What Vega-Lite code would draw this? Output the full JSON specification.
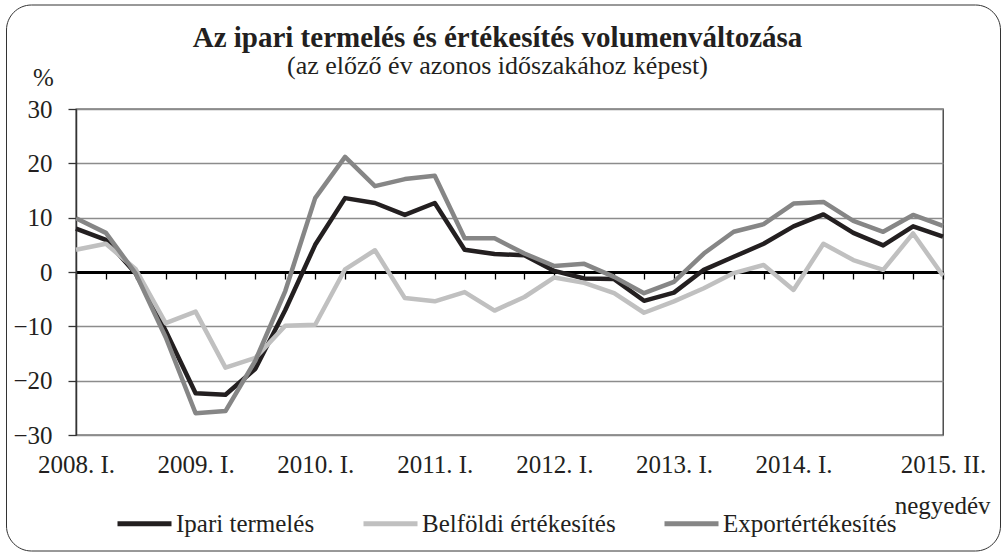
{
  "$schema": "https://vega.github.io/schema/vega-lite/v6.json",
  "width": 867,
  "height": 326,
  "autosize": "none",
  "padding": {"left": 76, "top": 109, "right": 61, "bottom": 120},
  "background": "white",
  "config": {
    "font": "Liberation Serif",
    "view": {"stroke": "#333333", "strokeWidth": 1.3},
    "axis": {"labelFont": "Liberation Serif", "titleFont": "Liberation Serif", "labelColor": "#231f20", "titleColor": "#231f20", "titleFontWeight": "normal"},
    "legend": {"labelFont": "Liberation Serif", "labelColor": "#231f20"}
  },
  "title": {
    "text": "Az ipari termelés és értékesítés volumenváltozása",
    "subtitle": "(az előző év azonos időszakához képest)",
    "anchor": "middle",
    "frame": "group",
    "font": "Liberation Serif",
    "fontSize": 29,
    "fontWeight": "bold",
    "color": "#231f20",
    "subtitleFont": "Liberation Serif",
    "subtitleFontSize": 26,
    "subtitleColor": "#231f20",
    "subtitlePadding": 0,
    "offset": 30,
    "dx": -12,
    "dy": 104.5
  },
  "datasets": {
    "main": [
      {"q": "2008. I.", "series": "Ipari termelés", "v": 8.0},
      {"q": "2008. II.", "series": "Ipari termelés", "v": 5.9},
      {"q": "2008. III.", "series": "Ipari termelés", "v": -0.3},
      {"q": "2008. IV.", "series": "Ipari termelés", "v": -10.8},
      {"q": "2009. I.", "series": "Ipari termelés", "v": -22.3},
      {"q": "2009. II.", "series": "Ipari termelés", "v": -22.6},
      {"q": "2009. III.", "series": "Ipari termelés", "v": -17.8},
      {"q": "2009. IV.", "series": "Ipari termelés", "v": -7.0},
      {"q": "2010. I.", "series": "Ipari termelés", "v": 5.0},
      {"q": "2010. II.", "series": "Ipari termelés", "v": 13.6},
      {"q": "2010. III.", "series": "Ipari termelés", "v": 12.7},
      {"q": "2010. IV.", "series": "Ipari termelés", "v": 10.5},
      {"q": "2011. I.", "series": "Ipari termelés", "v": 12.7},
      {"q": "2011. II.", "series": "Ipari termelés", "v": 4.1},
      {"q": "2011. III.", "series": "Ipari termelés", "v": 3.3},
      {"q": "2011. IV.", "series": "Ipari termelés", "v": 3.1},
      {"q": "2012. I.", "series": "Ipari termelés", "v": 0.2},
      {"q": "2012. II.", "series": "Ipari termelés", "v": -1.2},
      {"q": "2012. III.", "series": "Ipari termelés", "v": -1.3},
      {"q": "2012. IV.", "series": "Ipari termelés", "v": -5.3},
      {"q": "2013. I.", "series": "Ipari termelés", "v": -3.8},
      {"q": "2013. II.", "series": "Ipari termelés", "v": 0.4},
      {"q": "2013. III.", "series": "Ipari termelés", "v": 2.8},
      {"q": "2013. IV.", "series": "Ipari termelés", "v": 5.2},
      {"q": "2014. I.", "series": "Ipari termelés", "v": 8.4},
      {"q": "2014. II.", "series": "Ipari termelés", "v": 10.6},
      {"q": "2014. III.", "series": "Ipari termelés", "v": 7.2},
      {"q": "2014. IV.", "series": "Ipari termelés", "v": 4.9},
      {"q": "2015. I.", "series": "Ipari termelés", "v": 8.4},
      {"q": "2015. II.", "series": "Ipari termelés", "v": 6.5},
      {"q": "2008. I.", "series": "Belföldi értékesítés", "v": 4.1},
      {"q": "2008. II.", "series": "Belföldi értékesítés", "v": 5.2},
      {"q": "2008. III.", "series": "Belföldi értékesítés", "v": 0.5},
      {"q": "2008. IV.", "series": "Belföldi értékesítés", "v": -9.4},
      {"q": "2009. I.", "series": "Belföldi értékesítés", "v": -7.3},
      {"q": "2009. II.", "series": "Belföldi értékesítés", "v": -17.6},
      {"q": "2009. III.", "series": "Belföldi értékesítés", "v": -15.8},
      {"q": "2009. IV.", "series": "Belföldi értékesítés", "v": -9.9},
      {"q": "2010. I.", "series": "Belföldi értékesítés", "v": -9.7},
      {"q": "2010. II.", "series": "Belföldi értékesítés", "v": 0.5},
      {"q": "2010. III.", "series": "Belföldi értékesítés", "v": 4.0},
      {"q": "2010. IV.", "series": "Belföldi értékesítés", "v": -4.8},
      {"q": "2011. I.", "series": "Belföldi értékesítés", "v": -5.4},
      {"q": "2011. II.", "series": "Belföldi értékesítés", "v": -3.7},
      {"q": "2011. III.", "series": "Belföldi értékesítés", "v": -7.1},
      {"q": "2011. IV.", "series": "Belföldi értékesítés", "v": -4.6},
      {"q": "2012. I.", "series": "Belföldi értékesítés", "v": -1.0},
      {"q": "2012. II.", "series": "Belföldi értékesítés", "v": -2.0},
      {"q": "2012. III.", "series": "Belföldi értékesítés", "v": -3.9},
      {"q": "2012. IV.", "series": "Belföldi értékesítés", "v": -7.5},
      {"q": "2013. I.", "series": "Belföldi értékesítés", "v": -5.4},
      {"q": "2013. II.", "series": "Belföldi értékesítés", "v": -3.0},
      {"q": "2013. III.", "series": "Belföldi értékesítés", "v": -0.2},
      {"q": "2013. IV.", "series": "Belföldi értékesítés", "v": 1.3},
      {"q": "2014. I.", "series": "Belföldi értékesítés", "v": -3.3},
      {"q": "2014. II.", "series": "Belföldi értékesítés", "v": 5.2},
      {"q": "2014. III.", "series": "Belföldi értékesítés", "v": 2.2},
      {"q": "2014. IV.", "series": "Belföldi értékesítés", "v": 0.4},
      {"q": "2015. I.", "series": "Belföldi értékesítés", "v": 7.1},
      {"q": "2015. II.", "series": "Belföldi értékesítés", "v": -0.7},
      {"q": "2008. I.", "series": "Exportértékesítés", "v": 9.9},
      {"q": "2008. II.", "series": "Exportértékesítés", "v": 7.2},
      {"q": "2008. III.", "series": "Exportértékesítés", "v": -0.3},
      {"q": "2008. IV.", "series": "Exportértékesítés", "v": -12.0},
      {"q": "2009. I.", "series": "Exportértékesítés", "v": -26.0},
      {"q": "2009. II.", "series": "Exportértékesítés", "v": -25.6},
      {"q": "2009. III.", "series": "Exportértékesítés", "v": -16.3},
      {"q": "2009. IV.", "series": "Exportértékesítés", "v": -3.5},
      {"q": "2010. I.", "series": "Exportértékesítés", "v": 13.6},
      {"q": "2010. II.", "series": "Exportértékesítés", "v": 21.2},
      {"q": "2010. III.", "series": "Exportértékesítés", "v": 15.8},
      {"q": "2010. IV.", "series": "Exportértékesítés", "v": 17.1},
      {"q": "2011. I.", "series": "Exportértékesítés", "v": 17.7},
      {"q": "2011. II.", "series": "Exportértékesítés", "v": 6.2},
      {"q": "2011. III.", "series": "Exportértékesítés", "v": 6.2},
      {"q": "2011. IV.", "series": "Exportértékesítés", "v": 3.4},
      {"q": "2012. I.", "series": "Exportértékesítés", "v": 1.1},
      {"q": "2012. II.", "series": "Exportértékesítés", "v": 1.5},
      {"q": "2012. III.", "series": "Exportértékesítés", "v": -0.9},
      {"q": "2012. IV.", "series": "Exportértékesítés", "v": -3.9},
      {"q": "2013. I.", "series": "Exportértékesítés", "v": -1.8},
      {"q": "2013. II.", "series": "Exportértékesítés", "v": 3.4},
      {"q": "2013. III.", "series": "Exportértékesítés", "v": 7.4},
      {"q": "2013. IV.", "series": "Exportértékesítés", "v": 8.8},
      {"q": "2014. I.", "series": "Exportértékesítés", "v": 12.6},
      {"q": "2014. II.", "series": "Exportértékesítés", "v": 12.9},
      {"q": "2014. III.", "series": "Exportértékesítés", "v": 9.4},
      {"q": "2014. IV.", "series": "Exportértékesítés", "v": 7.4},
      {"q": "2015. I.", "series": "Exportértékesítés", "v": 10.5},
      {"q": "2015. II.", "series": "Exportértékesítés", "v": 8.5}
    ]
  },
  "data": {"name": "main"},
  "layer": [
    {
      "mark": {"type": "line", "strokeWidth": 4.5, "strokeJoin": "round"},
      "encoding": {
        "x": {
          "field": "q", "type": "ordinal", "sort": null,
          "scale": {"type": "point", "padding": 0},
          "axis": {
            "orient": "bottom", "offset": -163,
            "domainColor": "#000000", "domainWidth": 3.2,
            "ticks": true, "tickColor": "#000000", "tickSize": 7, "tickWidth": 1.3,
            "labelExpr": "(length(datum.label) == 8 && datum.label != '2015. I.') || datum.label == '2015. II.' ? datum.label : ''",
            "labelFontSize": 25, "labelPadding": 173, "labelAngle": 0,
            "labelOverlap": false, "labelFlush": false, "labelBound": false,
            "title": "negyedév", "titleFontSize": 25,
            "titleX": 914, "titleY": 233, "titleAlign": "right", "titleBaseline": "middle",
            "grid": false
          }
        },
        "y": {
          "field": "v", "type": "quantitative",
          "scale": {"domain": [-30, 30], "nice": false, "zero": false},
          "axis": {
            "values": [-30, -20, -10, 0, 10, 20, 30],
            "labelFontSize": 25, "labelPadding": 16,
            "tickSize": 8, "tickColor": "#333333", "tickWidth": 1.3,
            "domainColor": "#333333", "domainWidth": 1.5,
            "grid": true, "gridColor": "#8c8c8c", "gridWidth": 1.3,
            "title": "%", "titleAngle": 0, "titleFontSize": 25,
            "titleX": -33, "titleY": -32, "titleAlign": "center", "titleBaseline": "middle"
          }
        },
        "stroke": {
          "field": "series", "type": "nominal",
          "scale": {
            "domain": ["Ipari termelés", "Belföldi értékesítés", "Exportértékesítés"],
            "range": ["#231f20", "#c0c0c0", "#868686"]
          },
          "legend": {
            "orient": "none", "legendX": 39, "legendY": 385,
            "direction": "horizontal", "title": null,
            "symbolType": "stroke", "symbolSize": 2916, "symbolStrokeWidth": 5,
            "labelFontSize": 25, "labelOffset": 2, "columnPadding": 38,
            "padding": 0, "labelLimit": 400
          }
        }
      }
    },
    {
      "mark": {"type": "point", "opacity": 0},
      "encoding": {
        "x": {"field": "q", "type": "ordinal", "sort": null},
        "y": {"field": "v", "type": "quantitative"},
        "fill": {
          "field": "v", "type": "quantitative",
          "scale": {"domain": [0, 1], "range": ["rgba(255,255,255,0)", "rgba(255,255,255,0)"]},
          "legend": {
            "orient": "none", "legendX": -70, "legendY": -104.5,
            "direction": "horizontal", "title": null,
            "gradientLength": 994, "gradientThickness": 545, "gradientStrokeWidth": 0,
            "labelExpr": "''", "labelFontSize": 1, "labelOffset": 0,
            "strokeColor": "#333333", "cornerRadius": 25, "padding": 0
          }
        }
      }
    }
  ]
}
